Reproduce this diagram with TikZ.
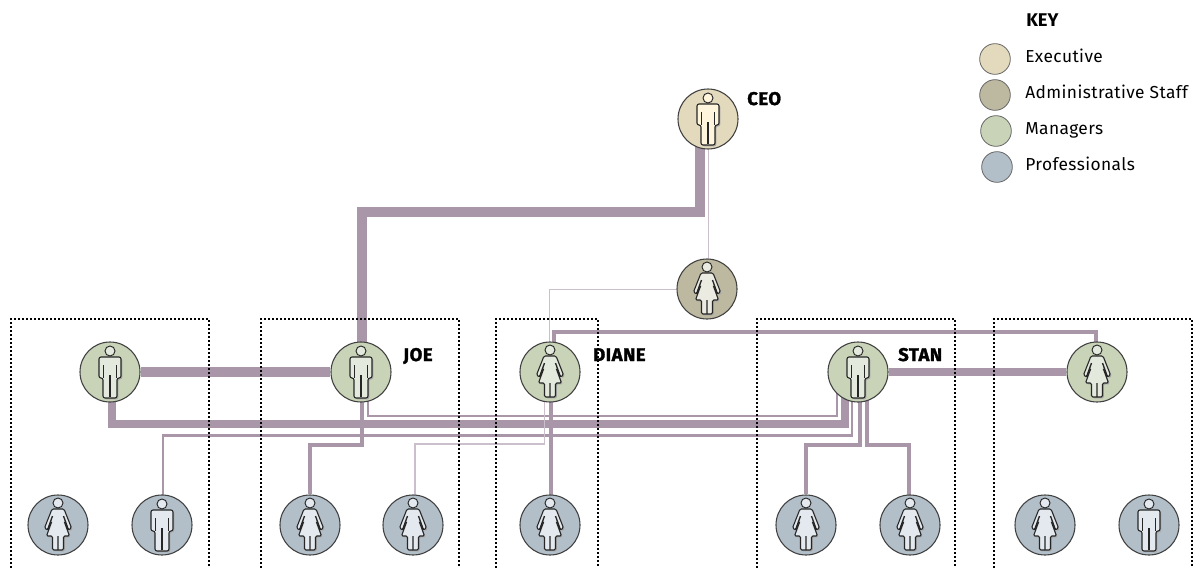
\documentclass[tikz,border=0pt]{standalone}
\usepackage{fontspec}
\setmainfont{Fira Sans}
\newfontfamily\namefont{Fira Sans}[BoldFeatures={FakeBold=1.6,LetterSpace=3}]
\newfontfamily\keyfont{Fira Sans}[LetterSpace=2.4]
\usetikzlibrary{positioning,calc,backgrounds}
\definecolor{exec-fill}{HTML}{E3D9BD}
\definecolor{admin-fill}{HTML}{BDB8A0}
\definecolor{mgr-fill}{HTML}{C8D3B8}
\definecolor{pro-fill}{HTML}{B2BFC9}
\definecolor{exec-light}{HTML}{FFF5DC}
\definecolor{admin-light}{HTML}{ECEBE2}
\definecolor{mgr-light}{HTML}{E3E9DD}
\definecolor{pro-light}{HTML}{E3E9EE}
\definecolor{link-col}{HTML}{A996A8}
\definecolor{link-pale}{HTML}{CBBFCB}

\begin{document}
\begin{tikzpicture}[x=0.75pt, y=-0.75pt,
    person/.style={circle, draw=black!75, line width=0.8pt, minimum size=45pt, inner sep=0pt},
    keydot/.style={circle, draw=black!60, line width=0.6pt, minimum size=23pt, inner sep=0pt},
    keytext/.style={anchor=base west, inner sep=0pt, font=\keyfont\fontsize{13}{14}\selectfont},
    who/.style={anchor=base west, inner sep=0pt, font=\namefont\fontsize{13.8}{14}\selectfont\bfseries},
    keyhead/.style={anchor=base west, inner sep=0pt, font=\fontsize{13.8}{14}\selectfont\bfseries},
    group/.style={draw=black, line width=1.3pt, dash pattern=on 1.3pt off 1.7pt},
    link/.style={draw=link-col, line join=miter},
    pale/.style={draw=link-pale, line width=0.6pt},
    pics/man/.style={code={
        \fill[black!35, rounded corners=1.5pt, shift={(1.3,1.3)}]
            (-11,-15) -- (11,-15) -- (11,6) -- (7,6) -- (7,26) -- (-7,26) -- (-7,6) -- (-11,6) -- cycle;
        \draw[draw=black!85, line width=0.8pt, rounded corners=1.5pt, fill=#1]
            (-11,-15) -- (11,-15) -- (11,6) -- (7,6) -- (7,26) -- (-7,26) -- (-7,6) -- (-11,6) -- cycle;
        \draw[draw=black!85, line width=1pt] (-6.5,-7) -- (-6.5,6) (6.5,-7) -- (6.5,6) (0,3) -- (0,25);
        \draw[draw=black!85, line width=0.7pt, fill=#1] (0,-21) circle (5);
    }},
    pics/woman/.style={code={
        \fill[black!35, rounded corners=1pt, shift={(1.3,1.3)}]
            (-6,-16) -- (6,-16) -- (13.5,3) -- (10.5,5) -- (6,-4) -- (11.5,11) -- (5.5,11) -- (5.5,25) -- (-5.5,25) -- (-5.5,11) -- (-11.5,11) -- (-6,-4) -- (-10.5,5) -- (-13.5,3) -- cycle;
        \draw[draw=black!85, line width=0.8pt, rounded corners=1pt, fill=#1]
            (-6,-16) -- (6,-16) -- (13.5,3) -- (10.5,5) -- (6,-4) -- (11.5,11) -- (5.5,11) -- (5.5,25) -- (-5.5,25) -- (-5.5,11) -- (-11.5,11) -- (-6,-4) -- (-10.5,5) -- (-13.5,3) -- cycle;
        \draw[draw=black!85, line width=1pt] (0,11) -- (0,25) (-5.5,-9) -- (-10.5,5) (5.5,-9) -- (10.5,5);
        \draw[draw=black!85, line width=0.7pt, fill=#1] (0,-22) circle (5);
    }}]
    \useasboundingbox (0,0) rectangle (1197,568);

    % Executive and staff
    \node[person, fill=exec-fill] (ceo) at (708,119) {};
    \node[person, fill=admin-fill] (admin) at (707,289) {};

    % Managers
    \node[person, fill=mgr-fill] (mgra) at (110,372) {};
    \node[person, fill=mgr-fill] (joe) at (361,372) {};
    \node[person, fill=mgr-fill] (diane) at (550,372) {};
    \node[person, fill=mgr-fill] (stan) at (858,372) {};
    \node[person, fill=mgr-fill] (mgre) at (1097,372) {};

    % Professionals
    \node[person, fill=pro-fill] (proa) at (58,525) {};
    \node[person, fill=pro-fill] (prob) at (162,525) {};
    \node[person, fill=pro-fill] (proc) at (310,525) {};
    \node[person, fill=pro-fill] (prod) at (413,525) {};
    \node[person, fill=pro-fill] (proe) at (550,525) {};
    \node[person, fill=pro-fill] (prof) at (806,525) {};
    \node[person, fill=pro-fill] (prog) at (910,525) {};
    \node[person, fill=pro-fill] (proh) at (1045,525) {};
    \node[person, fill=pro-fill] (proi) at (1149,525) {};

    % Figures
    \pic at (ceo) {man=exec-light};
    \pic at (admin) {woman=admin-light};
    \pic at (mgra) {man=mgr-light};
    \pic at (joe) {man=mgr-light};
    \pic at (diane) {woman=mgr-light};
    \pic at (stan) {man=mgr-light};
    \pic at (mgre) {woman=mgr-light};
    \pic at (proa) {woman=pro-light};
    \pic at (prob) {man=pro-light};
    \pic at (proc) {woman=pro-light};
    \pic at (prod) {woman=pro-light};
    \pic at (proe) {woman=pro-light};
    \pic at (prof) {woman=pro-light};
    \pic at (prog) {woman=pro-light};
    \pic at (proh) {woman=pro-light};
    \pic at (proi) {man=pro-light};

    % Names
    \node[who] (ceoname) at (747,105) {CEO};
    \node[who] (joename) at (403,361) {JOE};
    \node[who] (dianename) at (593,361) {DIANE};
    \node[who] (stanname) at (898,361) {STAN};

    % Key
    \node[keyhead] (keytitle) at (1026,26) {KEY};
    \node[keydot, fill=exec-fill] (keya) at (995,59) {};
    \node[keydot, fill=admin-fill] (keyb) at (995,95) {};
    \node[keydot, fill=mgr-fill] (keyc) at (996,131) {};
    \node[keydot, fill=pro-fill] (keyd) at (997,167) {};
    \node[keytext] (keyatext) at (1025,62) {Executive};
    \node[keytext] (keybtext) at (1025,98) {Administrative Staff};
    \node[keytext] (keyctext) at (1025,134) {Managers};
    \node[keytext] (keydtext) at (1025,170) {Professionals};

    \begin{scope}[on background layer]
    % Reporting lines
    \draw[link, line width=7.5pt] ($(ceo)+(-8,0)$) -- ++(0,93) -| ($(joe)+(1,0)$);
    \draw[link, line width=7.5pt] (mgra) -- (joe);
    \draw[link, line width=6pt] (mgra.center) ++(1.5,0) |- ($(stan)+(-13,52)$) -- ($(stan)+(-13,0)$);
    \draw[link, line width=2.2pt] ($(joe)+(7,0)$) |- ($(stan)+(-21,44)$) -- ($(stan)+(-21,0)$);
    \draw[link, line width=2.2pt] (prob.center) ++(1,0) |- ($(stan)+(-6,63.5)$) -- ($(stan)+(-6,0)$);
    \draw[link, line width=3pt] ($(joe)+(1,0)$) |- ($(proc)+(0,-80)$) -- (proc);
    \draw[link, line width=3pt] ($(diane)+(1,0)$) -- ($(proe)+(1,0)$);
    \draw[link, line width=5.5pt] (stan) -- (mgre);
    \draw[link, line width=3pt] ($(stan)+(2,0)$) |- ($(prof)+(0,-80.5)$) -- (prof);
    \draw[link, line width=3pt] ($(stan)+(9,0)$) |- ($(prog)+(-1,-80.5)$) -- ($(prog)+(-1,0)$);
    \draw[link, line width=2.6pt] ($(diane)+(4,0)$) -- ++(0,-40) -| ($(mgre)+(-1,0)$);
    \draw[pale] (ceo) -- ($(admin)+(1,0)$);
    \draw[pale] (admin) -| ($(diane)+(-1,0)$);
    \draw[pale, line width=1.1pt] ($(diane)+(-5.5,0)$) |- ($(prod)+(2,-81)$) -- ($(prod)+(2,0)$);

    % Group boxes
    \draw[group] (11,568) |- (209,319) -- (209,568);
    \draw[group] (261,568) |- (459,319) -- (459,568);
    \draw[group] (496,568) |- (598,319) -- (598,568);
    \draw[group] (757,568) |- (955,319) -- (955,568);
    \draw[group] (994,568) |- (1192,319) -- (1192,568);
    \end{scope}
\end{tikzpicture}
\end{document}
